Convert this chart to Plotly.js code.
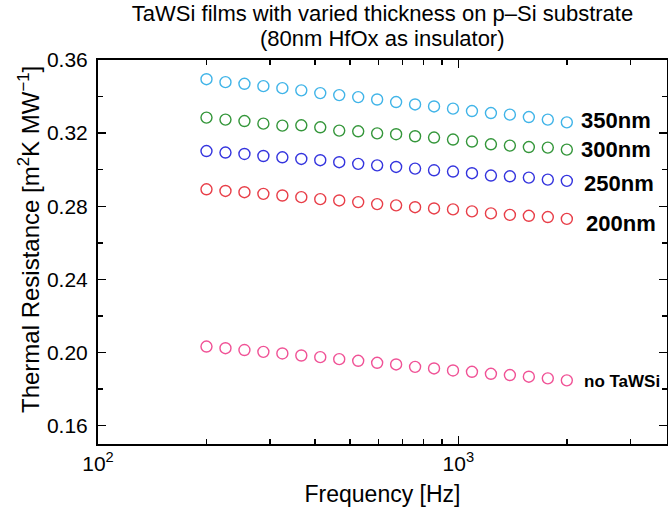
<!DOCTYPE html>
<html><head><meta charset="utf-8">
<script src="https://cdn.plot.ly/plotly-3.0.1.min.js"></script>
<style>html,body{margin:0;padding:0;background:#fff}</style>
</head><body>
<div id="chart" style="width:668px;height:514px"></div>
<script>
// Frequencies (Hz), 20 log-spaced points
const frequency = [200, 225.8, 254.9, 287.7, 324.8, 366.6, 413.8, 467.1, 527.3, 595.2,
                   671.9, 758.4, 856.1, 966.4, 1090.9, 1231.4, 1390.0, 1569.0, 1771.1, 2000];
// Thermal resistance values [m^2 K / MW]
const r350nm = [0.3495, 0.3479, 0.3470, 0.3457, 0.3446, 0.3434, 0.3419, 0.3408, 0.3397, 0.3384,
                0.3370, 0.3357, 0.3346, 0.3334, 0.3321, 0.3310, 0.3301, 0.3288, 0.3274, 0.3259];
const r300nm = [0.3285, 0.3274, 0.3266, 0.3252, 0.3241, 0.3243, 0.3232, 0.3214, 0.3210, 0.3199,
                0.3194, 0.3183, 0.3176, 0.3165, 0.3154, 0.3139, 0.3132, 0.3124, 0.3121, 0.3110];
const r250nm = [0.3102, 0.3094, 0.3086, 0.3075, 0.3068, 0.3059, 0.3052, 0.3041, 0.3032, 0.3024,
                0.3015, 0.3006, 0.2997, 0.2990, 0.2981, 0.2968, 0.2964, 0.2957, 0.2946, 0.2939];
const r200nm = [0.2893, 0.2884, 0.2877, 0.2868, 0.2859, 0.2850, 0.2839, 0.2832, 0.2823, 0.2812,
                0.2805, 0.2795, 0.2788, 0.2783, 0.2772, 0.2761, 0.2753, 0.2748, 0.2741, 0.2731];
const rNoTaWSi = [0.2033, 0.2024, 0.2014, 0.2004, 0.1995, 0.1984, 0.1975, 0.1964, 0.1955, 0.1944,
                  0.1935, 0.1922, 0.1913, 0.1902, 0.1895, 0.1884, 0.1877, 0.1868, 0.1859, 0.1848];
const seriesNames = ['350nm', '300nm', '250nm', '200nm', 'no TaWSi'];
const seriesValues = [r350nm, r300nm, r250nm, r200nm, rNoTaWSi];
const yTickVals = [0.16, 0.20, 0.24, 0.28, 0.32, 0.36];
const xTickVals = [100, 1000];
const xTickText = ['10<sup>2</sup>', '10<sup>3</sup>'];
const xMinorVals = [200, 300, 400, 500, 600, 700, 800, 900, 2000, 3000];
const titleLine1 = 'TaWSi films with varied thickness on p\u2013Si substrate';
const titleLine2 = '(80nm HfOx as insulator)';
const xTitle = 'Frequency [Hz]';
const yTitle = 'Thermal Resistance [m<sup>2</sup>K MW<sup>\u22121</sup>]';

// styles
const colors = ['rgb(64,180,232)', 'rgb(52,150,58)', 'rgb(52,52,222)', 'rgb(232,62,72)', 'rgb(240,82,150)'];
const labelStyle = [
  {x: 0.8456, size: 22}, {x: 0.8456, size: 22}, {x: 0.8508, size: 22}, {x: 0.8543, size: 22}, {x: 0.8508, size: 17}
];
const labelY = [0.3270, 0.3112, 0.2926, 0.2708, 0.1841];

const FONT = 'Liberation Sans, Arial, Helvetica, sans-serif';
const traces = seriesValues.map((vals, i) => ({
  type: 'scatter', mode: 'markers', name: seriesNames[i],
  x: frequency, y: vals,
  marker: {symbol: 'circle-open', size: 11, color: colors[i], line: {width: 1.4, color: colors[i]}},
  showlegend: false
}));

const annotations = seriesNames.map((n, i) => ({
  text: '<b>' + n + '</b>', xref: 'paper', yref: 'y', x: labelStyle[i].x, y: labelY[i],
  xanchor: 'left', yanchor: 'middle', showarrow: false,
  font: {family: FONT, size: labelStyle[i].size, color: '#000'}
}));
annotations.push({
  text: titleLine2, xref: 'paper', yref: 'paper', x: 0.5, y: 1, yshift: 22,
  xanchor: 'center', yanchor: 'middle', showarrow: false,
  font: {family: FONT, size: 22, color: '#000'}
});
annotations.push({
  text: yTitle, textangle: -90, xref: 'paper', yref: 'paper', x: 0, xshift: -69, y: 0.53125,
  xanchor: 'center', yanchor: 'middle', showarrow: false,
  font: {family: FONT, size: 24, color: '#000'}
});

const layout = {
  width: 668, height: 514,
  margin: {l: 98, r: 1, t: 60, b: 70},
  paper_bgcolor: '#fff', plot_bgcolor: '#fff',
  font: {family: FONT, color: '#000'},
  title: {text: titleLine1, font: {family: FONT, size: 22, color: '#000'},
          x: 0.5, xref: 'paper', xanchor: 'center', y: 1 - 13 / 514, yref: 'container', yanchor: 'middle'},
  xaxis: {
    type: 'log', range: [2, 3.579],
    tickmode: 'array', tickvals: xTickVals, ticktext: xTickText,
    ticks: 'inside', ticklen: 8, tickwidth: 1.5, tickcolor: '#000',
    minor: {tickmode: 'array', tickvals: xMinorVals, ticks: 'inside', ticklen: 5, tickwidth: 1.5, tickcolor: '#000', showgrid: false},
    showline: true, linewidth: 2, linecolor: '#000', mirror: 'ticks',
    showgrid: false, zeroline: false,
    tickfont: {family: FONT, size: 21, color: '#000'},
    title: {text: xTitle, font: {family: FONT, size: 23, color: '#000'}, standoff: 12}
  },
  yaxis: {
    range: [0.15, 0.36],
    tickmode: 'array', tickvals: yTickVals, tickformat: '.2f',
    ticks: 'inside', ticklen: 8, tickwidth: 1.5, tickcolor: '#000',
    minor: {dtick: 0.02, ticks: 'inside', ticklen: 5, tickwidth: 1.5, tickcolor: '#000', showgrid: false},
    showline: true, linewidth: 2, linecolor: '#000', mirror: 'ticks',
    showgrid: false, zeroline: false,
    tickfont: {family: FONT, size: 21, color: '#000'},
    ticklabelstandoff: 4
  },
  annotations: annotations
};

Plotly.newPlot('chart', traces, layout, {staticPlot: true, displayModeBar: false});
</script>
</body></html>
